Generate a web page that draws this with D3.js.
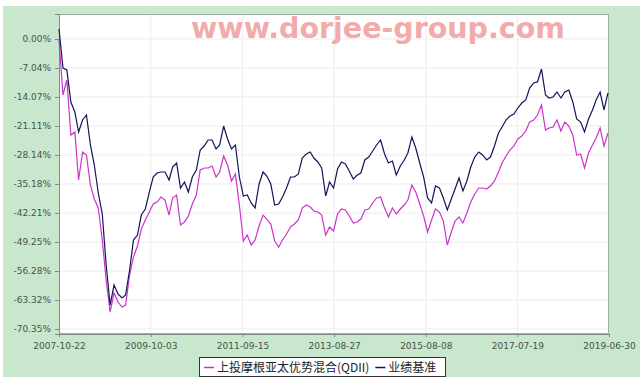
<!DOCTYPE html>
<html>
<head>
<meta charset="utf-8">
<script src="https://cdn.jsdelivr.net/npm/d3@7"></script>
<style>
  body { margin: 0; background: #fff; }
  svg { display: block; }
</style>
</head>
<body>
<svg id="chart"></svg>
<script>
// Monthly samples (22nd of each month)
const months = [
  "2007-10", "2007-11", "2007-12",
  "2008-01", "2008-02", "2008-03", "2008-04", "2008-05", "2008-06", "2008-07", "2008-08", "2008-09", "2008-10", "2008-11", "2008-12",
  "2009-01", "2009-02", "2009-03", "2009-04", "2009-05", "2009-06", "2009-07", "2009-08", "2009-09", "2009-10", "2009-11", "2009-12",
  "2010-01", "2010-02", "2010-03", "2010-04", "2010-05", "2010-06", "2010-07", "2010-08", "2010-09", "2010-10", "2010-11", "2010-12",
  "2011-01", "2011-02", "2011-03", "2011-04", "2011-05", "2011-06", "2011-07", "2011-08", "2011-09", "2011-10", "2011-11", "2011-12",
  "2012-01", "2012-02", "2012-03", "2012-04", "2012-05", "2012-06", "2012-07", "2012-08", "2012-09", "2012-10", "2012-11", "2012-12",
  "2013-01", "2013-02", "2013-03", "2013-04", "2013-05", "2013-06", "2013-07", "2013-08", "2013-09", "2013-10", "2013-11", "2013-12",
  "2014-01", "2014-02", "2014-03", "2014-04", "2014-05", "2014-06", "2014-07", "2014-08", "2014-09", "2014-10", "2014-11", "2014-12",
  "2015-01", "2015-02", "2015-03", "2015-04", "2015-05", "2015-06", "2015-07", "2015-08", "2015-09", "2015-10", "2015-11", "2015-12",
  "2016-01", "2016-02", "2016-03", "2016-04", "2016-05", "2016-06", "2016-07", "2016-08", "2016-09", "2016-10", "2016-11", "2016-12",
  "2017-01", "2017-02", "2017-03", "2017-04", "2017-05", "2017-06", "2017-07", "2017-08", "2017-09", "2017-10", "2017-11", "2017-12",
  "2018-01", "2018-02", "2018-03", "2018-04", "2018-05", "2018-06", "2018-07", "2018-08", "2018-09", "2018-10", "2018-11", "2018-12",
  "2019-01", "2019-02", "2019-03", "2019-04", "2019-05", "2019-06"
];

// 上投摩根亚太优势混合(QDII), cumulative return %
const fund = [
  -0.24, -13.59, -9.95, -23.29, -22.56, -34.20, -27.41, -28.14, -35.42, -38.81,
  -41.00, -48.76, -58.46, -66.23, -61.62, -63.80, -65.02, -64.53, -57.25, -52.88,
  -50.22, -46.09, -43.91, -41.97, -40.03, -39.54, -38.33, -39.06, -42.70, -38.57,
  -37.84, -45.12, -44.39, -42.94, -40.03, -37.84, -31.78, -31.29, -31.29, -30.81,
  -33.48, -32.26, -28.38, -30.57, -34.45, -32.75, -40.27, -49.00, -47.55, -49.97,
  -48.76, -45.36, -42.70, -43.67, -44.88, -49.00, -50.46, -48.76, -47.31, -45.61,
  -44.88, -43.91, -41.00, -40.27, -40.75, -41.73, -41.97, -42.70, -47.55, -45.61,
  -46.58, -42.45, -41.24, -41.48, -42.94, -44.64, -44.39, -43.67, -41.48, -41.24,
  -39.78, -38.57, -38.33, -41.00, -43.18, -41.00, -42.45, -41.24, -40.27, -39.06,
  -35.42, -37.12, -40.03, -42.94, -46.82, -43.91, -41.24, -41.97, -44.15, -49.97,
  -46.82, -44.15, -43.18, -44.64, -42.21, -39.54, -37.60, -36.15, -36.15, -36.39,
  -35.66, -34.45, -32.26, -30.08, -28.38, -26.93, -25.96, -24.26, -23.53, -22.32,
  -20.14, -19.65, -18.44, -16.01, -22.08, -21.59, -21.35, -19.65, -22.32, -20.14,
  -21.11, -23.29, -28.14, -27.90, -31.29, -27.66, -25.71, -24.02, -21.59, -25.96,
  -22.80
];

// 业绩基准, cumulative return %
const bench = [
  2.43, -7.04, -7.52, -15.28, -17.71, -22.56, -19.65, -18.44, -25.71, -30.57,
  -37.36, -42.46, -54.83, -64.53, -59.68, -61.86, -62.83, -62.10, -56.04, -48.76,
  -47.55, -42.70, -41.24, -37.12, -33.48, -32.51, -32.26, -32.26, -34.20, -31.05,
  -30.08, -36.15, -34.69, -37.12, -33.48, -31.78, -26.93, -25.96, -24.50, -24.50,
  -26.69, -25.71, -21.11, -24.26, -26.69, -25.71, -33.48, -38.09, -37.84, -39.78,
  -40.99, -35.18, -32.26, -33.23, -35.18, -40.27, -40.03, -38.33, -36.15, -33.48,
  -33.48, -32.75, -28.87, -27.90, -27.41, -28.87, -29.84, -31.29, -38.09, -34.69,
  -36.15, -31.54, -29.84, -30.32, -32.02, -33.96, -32.99, -32.51, -29.35, -28.63,
  -27.17, -25.71, -24.50, -27.90, -30.08, -29.60, -32.99, -30.81, -29.35, -27.66,
  -23.77, -26.44, -30.08, -33.48, -38.57, -39.78, -35.66, -36.15, -38.57, -41.48,
  -38.81, -36.39, -33.72, -36.87, -34.45, -31.05, -28.63, -27.41, -28.14, -29.35,
  -28.63, -25.96, -22.80, -21.35, -19.65, -18.68, -18.19, -16.74, -15.53, -14.80,
  -11.89, -10.67, -10.43, -7.28, -13.59, -14.32, -14.07, -12.86, -14.32, -12.86,
  -12.37, -15.28, -19.41, -20.14, -22.56, -19.41, -17.22, -14.80, -12.86, -17.22,
  -13.10
];

const xTickLabels = ["2007-10-22", "2009-10-03", "2011-09-15", "2013-08-27", "2015-08-08", "2017-07-19", "2019-06-30"];
const yTickValues = [0, -7.035, -14.07, -21.105, -28.14, -35.175, -42.21, -49.245, -56.28, -63.315, -70.35];
const yTickLabels = ["0.00%", "-7.04%", "-14.07%", "-21.11%", "-28.14%", "-35.18%", "-42.21%", "-49.25%", "-56.28%", "-63.32%", "-70.35%"];
const seriesNames = ["上投摩根亚太优势混合(QDII)", "业绩基准"];
const seriesColors = ["#cc33cc", "#14145a"];

const W = 640, H = 379;
const plot = { left: 59, top: 14, right: 609, bottom: 334 };

const parseDay = d3.timeParse("%Y-%m-%d");
const dates = months.map(m => parseDay(m + "-22"));

const svg = d3.select("#chart").attr("width", W).attr("height", H);

// green frame
svg.append("rect")
    .attr("x", 3).attr("y", 6)
    .attr("width", W - 3).attr("height", 371)
    .attr("fill", "#c8e7cd");

svg.append("rect")
    .attr("x", plot.left).attr("y", plot.top)
    .attr("width", plot.right - plot.left).attr("height", plot.bottom - plot.top)
    .attr("fill", "#fff");

const x = d3.scaleTime()
    .domain([parseDay(xTickLabels[0]), parseDay(xTickLabels[xTickLabels.length - 1])])
    .range([plot.left, plot.right]);

const y = d3.scaleLinear()
    .domain([-71.56, 6.06])
    .range([plot.bottom, plot.top]);

// grid
svg.append("g")
    .selectAll("line.h")
    .data(yTickValues)
    .enter().append("line")
    .attr("x1", plot.left).attr("x2", plot.right)
    .attr("y1", d => y(d)).attr("y2", d => y(d))
    .attr("stroke", "#ececec");

svg.append("g")
    .selectAll("line.v")
    .data(xTickLabels.slice(1, -1))
    .enter().append("line")
    .attr("x1", d => x(parseDay(d))).attr("x2", d => x(parseDay(d)))
    .attr("y1", plot.top).attr("y2", plot.bottom)
    .attr("stroke", "#ececec");

// frame round the plot
svg.append("rect")
    .attr("x", plot.left + 0.5).attr("y", plot.top + 0.5)
    .attr("width", plot.right - plot.left - 1).attr("height", plot.bottom - plot.top - 1)
    .attr("fill", "none")
    .attr("stroke", "#9fae9f");

// axes
const yAxis = d3.axisLeft(y)
    .tickValues(yTickValues)
    .tickFormat((d, i) => yTickLabels[i])
    .tickSize(4)
    .tickPadding(4);

const xAxis = d3.axisBottom(x)
    .tickValues(xTickLabels.map(parseDay))
    .tickFormat((d, i) => xTickLabels[i])
    .tickSize(3)
    .tickPadding(6);

const gy = svg.append("g")
    .attr("transform", `translate(${plot.left},0)`)
    .call(yAxis);

const gx = svg.append("g")
    .attr("transform", `translate(0,${plot.bottom})`)
    .call(xAxis);

[gx, gy].forEach(g => {
  g.select(".domain").attr("stroke", "#7f917f");
  g.selectAll(".tick line").attr("stroke", "#7f917f");
  g.selectAll(".tick text")
      .attr("fill", "#475347")
      .style("font-family", "DejaVu Sans")
      .style("font-size", "9px");
});

// lines
const line = d3.line()
    .x((d, i) => x(dates[i]))
    .y(d => y(d));

svg.append("path")
    .datum(fund)
    .attr("d", line)
    .attr("fill", "none")
    .attr("stroke", seriesColors[0])
    .attr("stroke-width", 1.2);

svg.append("path")
    .datum(bench)
    .attr("d", line)
    .attr("fill", "none")
    .attr("stroke", seriesColors[1])
    .attr("stroke-width", 1.2);

// legend
const legend = svg.append("g");
legend.append("rect")
    .attr("x", 199.5).attr("y", 357.5)
    .attr("width", 246).attr("height", 19)
    .attr("fill", "#fff")
    .attr("stroke", "#333");

let lx = 204;
seriesNames.forEach((name, i) => {
  legend.append("line")
      .attr("x1", lx).attr("x2", lx + 10)
      .attr("y1", 367.5).attr("y2", 367.5)
      .attr("stroke", seriesColors[i])
      .attr("stroke-width", 1.5);
  const t = legend.append("text")
      .attr("x", lx + 13).attr("y", 372)
      .attr("fill", "#222")
      .style("font-family", "Noto Sans CJK SC")
      .style("font-size", "12px")
      .text(name);
  lx += 13 + t.node().getComputedTextLength() + 6;
});

// watermark
svg.append("text")
    .attr("x", 191).attr("y", 38)
    .attr("fill", "#f29c9c")
    .attr("opacity", 0.85)
    .style("font-family", "DejaVu Sans")
    .style("font-weight", "bold")
    .style("font-size", "28.5px")
    .text("www.dorjee-group.com");
</script>
</body>
</html>
